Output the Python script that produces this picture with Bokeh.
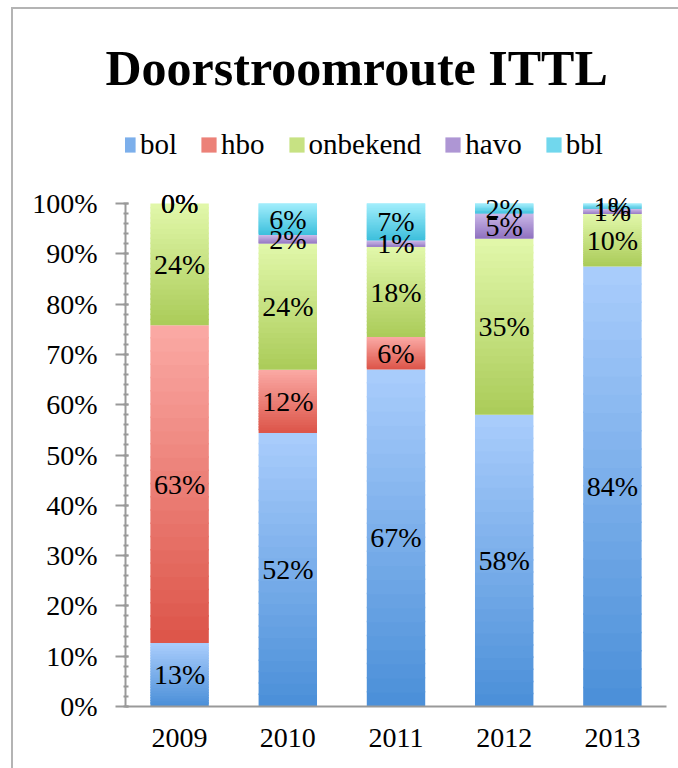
import numpy as np
from bokeh.plotting import figure
from bokeh.models import (FactorRange, Range1d, FixedTicker, PrintfTickFormatter,
                          Legend, LegendItem, LabelSet, ColumnDataSource, Title,
                          InlineStyleSheet)
from bokeh.embed import file_html
from bokeh.resources import INLINE

# ---- data (values as shown in the data labels, in %) ----
years = ["2009", "2010", "2011", "2012", "2013"]
series = ["bol", "hbo", "onbekend", "havo", "bbl"]
bol = [12.6, 52.0, 66.6, 58.0, 84.0]
hbo = [63.2, 12.0, 6.4, None, None]
onbekend = [24.2, 24.0, 17.8, 35.0, 10.0]
havo = [0.0, 1.6, 1.3, 5.0, 1.0]
bbl = [0.0, 6.0, 7.3, 2.0, 1.0]
y_ticks = list(range(0, 101, 10))

# gradient colours (top, bottom) per series
colors_top = ["#aacdfc", "#fbaaa5", "#e2f8ab", "#cbb8e8", "#a2eefc"]
colors_bottom = ["#4a8fd8", "#dc5448", "#aacb58", "#8e70bf", "#3cbfdc"]

FONT = "Liberation Serif"
data = [bol, hbo, onbekend, havo, bbl]

TOP = 100              # px above the frame (title panel)
BOTTOM_AXIS = 706      # px from top of figure to 0%
PX_PER_100 = 503       # px between 0% and 100%
y_top = 100.0 * (BOTTOM_AXIS - TOP) / PX_PER_100

p = figure(x_range=FactorRange(*years, range_padding=0), y_range=Range1d(0, y_top),
           width=678, height=768, output_backend="svg", toolbar_location=None,
           min_border_left=125, min_border_right=12, min_border_bottom=768 - BOTTOM_AXIS,
           min_border_top=TOP)
p.border_fill_alpha = 0
p.background_fill_alpha = 0
p.stylesheets = [InlineStyleSheet(css=":host { background: linear-gradient(#b4b4b4,#b4b4b4) 11px 7px / 2px 100% no-repeat, linear-gradient(#b4b4b4,#b4b4b4) 11px 7px / 100% 2px no-repeat, #ffffff; }")]
p.outline_line_color = None
p.grid.grid_line_color = None

vals = np.array([[0.0 if v is None else v for v in s] for s in data])
totals = vals.sum(axis=0)
norm = vals / totals * 100.0
cum = np.cumsum(norm, axis=0)
bottoms = cum - norm

def hex2rgb(h):
    h = h.lstrip("#")
    return np.array([int(h[i:i + 2], 16) for i in (0, 2, 4)], dtype=float)

N = 24
legend_items = []
lx, ly, lt = [], [], []
for si, name in enumerate(series):
    ct, cb = hex2rgb(colors_top[si]), hex2rgb(colors_bottom[si])
    xs, b_list, t_list, cols = [], [], [], []
    for yi, yr in enumerate(years):
        b0, h = bottoms[si, yi], norm[si, yi]
        if h > 0:
            for k in range(N):
                f = (k + 0.5) / N
                c = cb + (ct - cb) * f
                xs.append(yr)
                b_list.append(b0 + h * k / N)
                t_list.append(b0 + h * (k + 1) / N + (min(0.3, h / N) if k < N - 1 else 0))
                cols.append("#%02x%02x%02x" % tuple(int(round(v)) for v in c))
        if data[si][yi] is not None:
            lx.append(yr)
            ly.append(b0 + h / 2)
            lt.append("%d%%" % int(np.floor(data[si][yi] + 0.5)))
    r = p.vbar(x=xs, bottom=b_list, top=t_list, width=0.54, fill_color=cols, line_color=None)
    legend_items.append(LegendItem(label=name, renderers=[r], index=N // 2))

src = ColumnDataSource(dict(x=lx, y=ly, t=lt))
p.add_layout(LabelSet(x="x", y="y", text="t", source=src, text_align="center",
                      text_baseline="middle", text_font=FONT, text_font_size="28px",
                      text_color="black"))

# axes
for ax in (p.xaxis[0], p.yaxis[0]):
    ax.axis_line_color = "#999999"
    ax.axis_line_width = 2
    ax.major_tick_line_color = "#999999"
    ax.minor_tick_line_color = "#999999"
    ax.major_tick_line_width = 2
    ax.minor_tick_line_width = 2
    ax.major_label_text_font = FONT
    ax.major_label_text_font_size = "28px"
    ax.major_label_text_color = "black"

p.yaxis.bounds = (0, 100)
p.yaxis.ticker = FixedTicker(ticks=y_ticks, minor_ticks=list(range(0, 101, 2)))
p.yaxis.formatter = PrintfTickFormatter(format="%d%%")
p.yaxis.major_tick_out = 10
p.yaxis.major_tick_in = 3
p.yaxis.minor_tick_out = 2
p.yaxis.minor_tick_in = 3
p.yaxis.major_label_standoff = 18

p.xaxis.major_tick_out = 0
p.xaxis.major_tick_in = 0
p.xaxis.major_label_standoff = 22

legend = Legend(items=legend_items, orientation="horizontal", location=(-7, 545),
                label_text_font=FONT, label_text_font_size="29px", label_text_color="black",
                glyph_width=19, glyph_height=19, label_standoff=3, spacing=22,
                border_line_color=None, background_fill_alpha=0, margin=0, padding=0)
p.add_layout(legend, "center")

p.add_layout(Title(text="Doorstroomroute ITTL", text_font=FONT, text_font_size="50px",
                   text_font_style="bold", align="left", offset=-20, standoff=10,
                   vertical_align="bottom", text_color="black"), "above")

open("out.html", "w").write(file_html(p, INLINE))
